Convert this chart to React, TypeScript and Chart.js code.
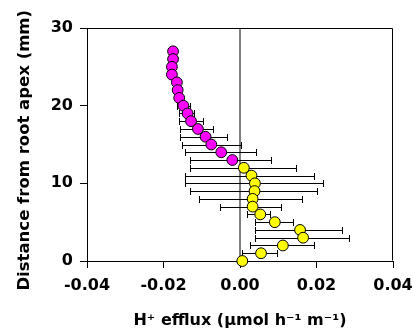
import React, { useEffect, useRef } from "react";
import { Chart, registerables } from "chart.js";

Chart.register(...registerables);

// Distance from root apex (mm)
const magentaY = [27, 26, 25, 24, 23, 22, 21, 20, 19, 18, 17, 16, 15, 14, 13];
// H+ efflux (µmol h-1 m-1)
const magentaX = [-0.0175, -0.0175, -0.0178, -0.0178, -0.0165, -0.0163, -0.0159, -0.0148, -0.0137, -0.0128, -0.011, -0.009, -0.0075, -0.0049, -0.002];
const magentaLo = [null, null, null, null, null, null, null, -0.0165, -0.0159, -0.0159, -0.0157, -0.0156, -0.0152, -0.0144, -0.0132];
const magentaHi = [null, null, null, null, null, null, null, -0.013, -0.0119, -0.0097, -0.007, -0.0033, 0.0003, 0.0043, 0.008];

const yellowY = [12, 11, 10, 9, 8, 7, 6, 5, 4, 3, 2, 1, 0];
const yellowX = [0.001, 0.003, 0.0039, 0.0038, 0.0033, 0.0033, 0.0053, 0.0091, 0.0157, 0.0165, 0.0112, 0.0055, 0.0006];
const yellowLo = [-0.0132, -0.0145, -0.0145, -0.013, -0.0107, -0.0051, 0.0017, 0.0039, 0.0039, 0.0039, 0.0026, 0.0004, null];
const yellowHi = [0.0147, 0.0193, 0.0216, 0.02, 0.0163, 0.0107, 0.0078, 0.0139, 0.0266, 0.0285, 0.0194, 0.0096, null];

const X_MIN = -0.04;
const X_MAX = 0.04;
const Y_MIN = 0;
const Y_MAX = 30;

const FONT = "'DejaVu Sans', 'Liberation Sans', sans-serif";

const series = [
  { ys: magentaY, xs: magentaX, lo: magentaLo, hi: magentaHi },
  { ys: yellowY, xs: yellowX, lo: yellowLo, hi: yellowHi },
];

const errorBarPlugin = {
  id: "errorBars",
  beforeDatasetsDraw(chart: any) {
    const { ctx, chartArea, scales } = chart;
    const x = scales.x;
    const y = scales.y;
    ctx.save();
    ctx.strokeStyle = "#000";
    ctx.lineWidth = 1;
    // plot frame (top / right)
    ctx.beginPath();
    const L = Math.round(chartArea.left) + 0.5;
    const R = Math.round(chartArea.right) - 0.5;
    const T = Math.round(chartArea.top) + 0.5;
    const B = Math.round(chartArea.bottom) - 0.5;
    ctx.moveTo(L, T);
    ctx.lineTo(R, T);
    ctx.lineTo(R, B);
    ctx.stroke();
    const cap = 3.5;
    series.forEach((s) => {
      s.ys.forEach((yv, i) => {
        const lo = s.lo[i];
        const hi = s.hi[i];
        if (lo == null || hi == null) return;
        const py = Math.round(y.getPixelForValue(yv)) + 0.5;
        const x1 = Math.round(x.getPixelForValue(lo)) + 0.5;
        const x2 = Math.round(x.getPixelForValue(hi)) + 0.5;
        ctx.beginPath();
        ctx.moveTo(x1, py);
        ctx.lineTo(x2, py);
        ctx.moveTo(x1, py - cap);
        ctx.lineTo(x1, py + cap);
        ctx.moveTo(x2, py - cap);
        ctx.lineTo(x2, py + cap);
        ctx.stroke();
      });
    });
    ctx.restore();
  },
};

export default function App() {
  const ref = useRef<HTMLCanvasElement | null>(null);
  useEffect(() => {
    document.body.style.margin = "0";
    const canvas = ref.current;
    if (!canvas) return;
    const pointStyle = {
      pointRadius: 5.4,
      pointHoverRadius: 5.4,
      pointBorderColor: "#000",
      pointBorderWidth: 1,
      showLine: false,
      clip: false as any,
    };
    const chart = new Chart(canvas, {
      type: "scatter",
      data: {
        datasets: [
          {
            label: "a",
            data: yellowY.map((yv, i) => ({ x: yellowX[i], y: yv })),
            pointBackgroundColor: "#ffff00",
            backgroundColor: "#ffff00",
            ...pointStyle,
          },
          {
            label: "b",
            data: magentaY.map((yv, i) => ({ x: magentaX[i], y: yv })),
            pointBackgroundColor: "#ff00ff",
            backgroundColor: "#ff00ff",
            ...pointStyle,
          },
          {
            label: "zero",
            data: [
              { x: 0, y: Y_MIN },
              { x: 0, y: Y_MAX },
            ],
            showLine: true,
            borderColor: "#000",
            borderWidth: 1,
            pointRadius: 0,
            clip: false as any,
          },
        ],
      },
      options: {
        responsive: false,
        animation: false,
        devicePixelRatio: 1,
        layout: { padding: { left: 0, right: 20, top: 28, bottom: 0 } },
        plugins: {
          legend: { display: false },
          tooltip: { enabled: false },
        },
        scales: {
          x: {
            type: "linear",
            min: X_MIN,
            max: X_MAX,
            ticks: {
              stepSize: 0.02,
              color: "#000",
              padding: 8,
              font: { family: FONT, size: 16, weight: "bold" },
              callback: (v: any) => {
                const n = Number(v);
                return (Math.abs(n) < 1e-9 ? 0 : n).toFixed(2);
              },
            },
            grid: {
              drawOnChartArea: false,
              drawTicks: true,
              tickLength: 7,
              color: "#000",
            },
            border: { display: true, color: "#000", width: 1 },
            title: {
              display: true,
              text: "H⁺ efflux (µmol h⁻¹ m⁻¹)",
              color: "#000",
              font: { family: FONT, size: 16, weight: "bold" },
              padding: { top: 0, bottom: 1 },
            },
            afterFit: (s: any) => {
              s.height = 70;
              s.paddingLeft = 0;
              s.paddingRight = 0;
            },
          },
          y: {
            type: "linear",
            min: Y_MIN,
            max: Y_MAX,
            ticks: {
              stepSize: 10,
              color: "#000",
              padding: 7,
              font: { family: FONT, size: 16, weight: "bold" },
            },
            grid: {
              drawOnChartArea: false,
              drawTicks: true,
              tickLength: 7,
              color: "#000",
            },
            border: { display: true, color: "#000", width: 1 },
            title: {
              display: true,
              text: "Distance from root apex (mm)  ",
              color: "#000",
              font: { family: FONT, size: 16.5, weight: "bold" },
              padding: { top: 15, bottom: 0 },
            },
            afterFit: (s: any) => {
              s.width = 87;
              s.paddingTop = 0;
              s.paddingBottom = 0;
            },
          },
        },
      },
      plugins: [errorBarPlugin],
    });
    return () => chart.destroy();
  }, []);
  return (
    <div style={{ width: 413, height: 331 }}>
      <canvas ref={ref} width={413} height={331} style={{ width: 413, height: 331, display: "block" }} />
    </div>
  );
}
